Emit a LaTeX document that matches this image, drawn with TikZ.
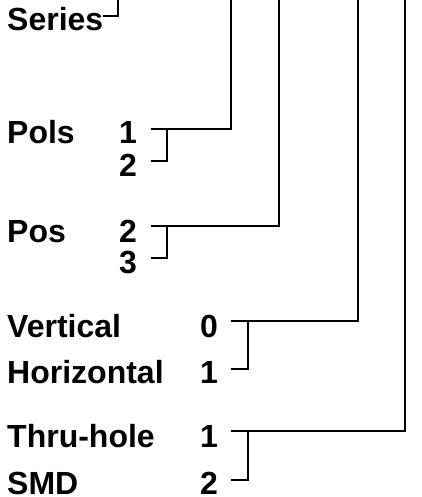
\documentclass[tikz,border=0pt]{standalone}
\usepackage{fontspec}
\setmainfont{Liberation Sans}
\begin{document}
\begin{tikzpicture}[x=1pt,y=-1pt,
  lbl/.style={inner sep=0pt,anchor=base west,font=\fontsize{32}{32}\selectfont\bfseries},
  num/.style={inner sep=0pt,anchor=base east,font=\fontsize{32}{32}\selectfont\bfseries},
  wire/.style={line width=1.8pt,line cap=rect}]
\useasboundingbox (0,0) rectangle (422,497);
% labels
\node[lbl] (series) at (7,31) {Series};
\node[lbl] (pols) at (7,144) {Pols};
\node[num] (p1) at (137,144) {1};
\node[num] (p2) at (137,176) {2};
\node[lbl] (pos) at (7,242) {Pos};
\node[num] (q2) at (137,242) {2};
\node[num] (q3) at (137,273) {3};
\node[lbl] (vert) at (7,337) {Vertical};
\node[num] (v0) at (218,337) {0};
\node[lbl] (horiz) at (7,383) {Horizontal};
\node[num] (h1) at (218,383) {1};
\node[lbl] (thru) at (7,447) {Thru-hole};
\node[num] (t1) at (218,447) {1};
\node[lbl] (smd) at (7,494) {SMD};
\node[num] (s2) at (218,494) {2};
% coordinates
\coordinate (s0) at (104,16);
\coordinate (s1) at (118,16);
\coordinate (s2top) at (118,0);
\coordinate (a0) at (152,129); \coordinate (a1) at (231,129); \coordinate (atop) at (231,0);
\coordinate (ab) at (167,129); \coordinate (ac) at (167,161); \coordinate (ad) at (152,161);
\coordinate (b0) at (152,226); \coordinate (b1) at (279,226); \coordinate (btop) at (279,0);
\coordinate (bb) at (167,226); \coordinate (bc) at (167,258); \coordinate (bd) at (152,258);
\coordinate (c0) at (232,321); \coordinate (c1) at (358,321); \coordinate (ctop) at (358,0);
\coordinate (cb) at (248,321); \coordinate (cc) at (248,369); \coordinate (cd) at (232,369);
\coordinate (d0) at (232,431); \coordinate (d1) at (405,431); \coordinate (dtop) at (405,0);
\coordinate (db) at (248,431); \coordinate (dc) at (248,480); \coordinate (dd) at (232,480);
% wires
\draw[wire] (s0) -- (s1) -- (s2top);
\draw[wire] (a0) -- (a1) -- (atop);
\draw[wire] (ab) -- (ac) -- (ad);
\draw[wire] (b0) -- (b1) -- (btop);
\draw[wire] (bb) -- (bc) -- (bd);
\draw[wire] (c0) -- (c1) -- (ctop);
\draw[wire] (cb) -- (cc) -- (cd);
\draw[wire] (d0) -- (d1) -- (dtop);
\draw[wire] (db) -- (dc) -- (dd);
\end{tikzpicture}
\end{document}
